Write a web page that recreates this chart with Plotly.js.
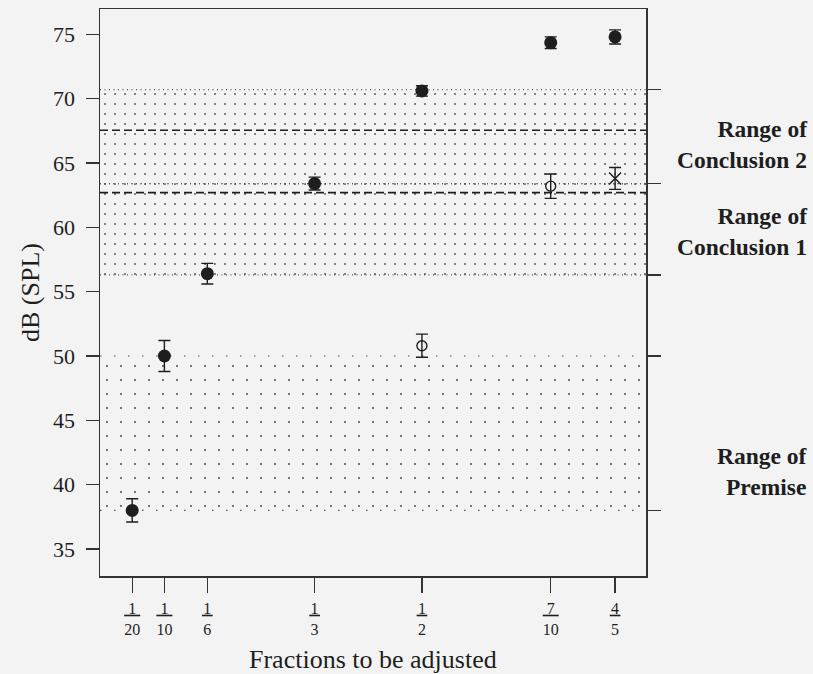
<!DOCTYPE html>
<html><head><meta charset="utf-8">
<script src="https://cdn.plot.ly/plotly-3.0.1.min.js"></script>
<style>html,body{margin:0;padding:0;background:#f3f3f3}</style>
</head><body><div id="chart" style="width:813px;height:674px"></div>
<script>
// ---- data ----
const fracNum = ['1','1','1','1','1','7','4'];
const fracDen = ['20','10','6','3','2','10','5'];
const fracVal = [0.05, 0.1, 0.1667, 0.3333, 0.5, 0.7, 0.8];

const filledX = [0.05, 0.1, 0.1667, 0.3333, 0.5, 0.7, 0.8];
const filledY = [38.0, 50.0, 56.4, 63.4, 70.6, 74.35, 74.8];
const filledErr = [0.9, 1.2, 0.8, 0.5, 0.4, 0.45, 0.55];

const openX = [0.5, 0.7];
const openY = [50.8, 63.2];
const openErr = [0.9, 0.95];

const crossX = [0.8];
const crossY = [63.8];
const crossErr = [0.85];

const rangeNames = ['Conclusion 2', 'Conclusion 1', 'Premise'];
const rangeLow = [63.4, 56.3, 38.0];
const rangeHigh = [70.7, 63.4, 50.0];
const meanLines = [67.55, 62.7];
const yTicks = [35, 40, 45, 50, 55, 60, 65, 70, 75];
const xTitle = 'Fractions to be adjusted';
const yTitle = 'dB (SPL)';

// ---- layout constants ----
const xRange = [0, 0.848];
const yRange = [32.9, 76.97];
const ink = '#1e1e1e';
const serif = 'Liberation Serif';

const traces = [];
rangeNames.forEach((nm, i) => {
  const sparse = nm === 'Premise';
  traces.push({
    type: 'scatter', mode: 'lines',
    x: [xRange[0], xRange[1], xRange[1], xRange[0], xRange[0]],
    y: [rangeLow[i], rangeLow[i], rangeHigh[i], rangeHigh[i], rangeLow[i]],
    fill: 'toself', fillcolor: 'rgba(0,0,0,0)',
    line: {width: 0, color: 'rgba(0,0,0,0)'},
    fillpattern: {shape: '.', size: sparse ? 14 : 10, solidity: sparse ? 0.016 : 0.025,
                  fgcolor: '#4a4a4a', bgcolor: 'rgba(0,0,0,0)', fillmode: 'replace'},
    hoverinfo: 'skip', showlegend: false
  });
});

const errStyle = (arr) => ({type: 'data', array: arr, visible: true, color: ink, thickness: 1.4, width: 6});

traces.push({
  type: 'scatter', mode: 'markers', x: filledX, y: filledY,
  error_y: errStyle(filledErr),
  marker: {symbol: 'circle', size: 13, color: ink, line: {width: 0}},
  showlegend: false
});
traces.push({
  type: 'scatter', mode: 'markers', x: openX, y: openY,
  error_y: errStyle(openErr),
  marker: {symbol: 'circle-open', size: 10, color: ink, line: {width: 1.4, color: ink}},
  showlegend: false
});
traces.push({
  type: 'scatter', mode: 'markers', x: crossX, y: crossY,
  error_y: errStyle(crossErr),
  marker: {symbol: 'x-thin-open', size: 12, color: ink, line: {width: 1.5, color: ink}},
  showlegend: false
});
traces.push({type: 'scatter', mode: 'markers', x: [null], y: [null], yaxis: 'y2', showlegend: false, hoverinfo: 'skip'});

const tickText = fracNum.map((n, i) => {
  const pad = fracDen[i].length > n.length ? '\u2005' : '\u200A';
  return '<span style="text-decoration:underline">' + pad + n + pad + '</span><br>' + fracDen[i];
});

const shapes = [];
meanLines.forEach(v => shapes.push({
  type: 'line', xref: 'paper', x0: 0, x1: 1, yref: 'y', y0: v, y1: v,
  line: {color: ink, width: 1.6, dash: '8px,4px'}, layer: 'above'
}));
const bounds = [];
rangeNames.forEach((nm, i) => {
  bounds.push({v: rangeLow[i], p: nm === 'Premise'});
  bounds.push({v: rangeHigh[i], p: nm === 'Premise'});
});
bounds.forEach(b => shapes.push({
  type: 'line', xref: 'paper', x0: 0, x1: 1, yref: 'y', y0: b.v, y1: b.v,
  line: {color: '#555', width: 1.2, dash: b.p ? '1.5px,12.5px' : '1px,3.5px'}, layer: 'below'
}));

const rightTicks = Array.from(new Set(rangeLow.concat(rangeHigh)));

const labelY = {'Conclusion 2': 66.4, 'Conclusion 1': 59.65, 'Premise': 41.0};
const annotations = rangeNames.map(nm => ({
  xref: 'paper', x: 1.3004, xanchor: 'right', yref: 'y', y: labelY[nm], yanchor: 'middle',
  text: 'Range of<br>' + nm, align: 'right', showarrow: false,
  font: {family: serif, size: 23.5, color: ink, weight: 'bold'}
}));
annotations.push({
  xref: 'paper', x: 0.5, xanchor: 'center', yref: 'paper', y: -0.1464, yanchor: 'middle',
  text: xTitle, showarrow: false, font: {family: serif, size: 26, color: ink}
});

const layout = {
  width: 813, height: 674,
  margin: {l: 100, r: 167, t: 9, b: 98},
  paper_bgcolor: '#f3f3f3', plot_bgcolor: '#f3f3f3',
  showlegend: false,
  font: {family: serif, color: ink},
  xaxis: {
    range: xRange, showgrid: false, zeroline: false,
    showline: true, mirror: true, linecolor: '#333', linewidth: 1.5,
    ticks: 'outside', ticklen: 15, tickwidth: 1.3, tickcolor: '#333',
    tickmode: 'array', tickvals: fracVal, ticktext: tickText,
    tickfont: {family: serif, size: 16, color: ink},
    ticklabelstandoff: 2
  },
  yaxis: {
    range: yRange, showgrid: false, zeroline: false,
    showline: true, mirror: true, linecolor: '#333', linewidth: 1.5,
    ticks: 'outside', ticklen: 13, tickwidth: 1.3, tickcolor: '#333',
    tickmode: 'array', tickvals: yTicks,
    tickfont: {family: serif, size: 22, color: ink},
    ticklabelstandoff: 6,
    title: {text: yTitle, font: {family: serif, size: 26, color: ink}, standoff: 6}
  },
  yaxis2: {
    overlaying: 'y', side: 'right', range: yRange,
    showgrid: false, zeroline: false, showline: false,
    ticks: 'outside', ticklen: 14, tickwidth: 1.3, tickcolor: '#333',
    tickmode: 'array', tickvals: rightTicks, showticklabels: false
  },
  shapes: shapes,
  annotations: annotations
};

Plotly.newPlot('chart', traces, layout, {displayModeBar: false, staticPlot: true});
</script>
</body></html>
